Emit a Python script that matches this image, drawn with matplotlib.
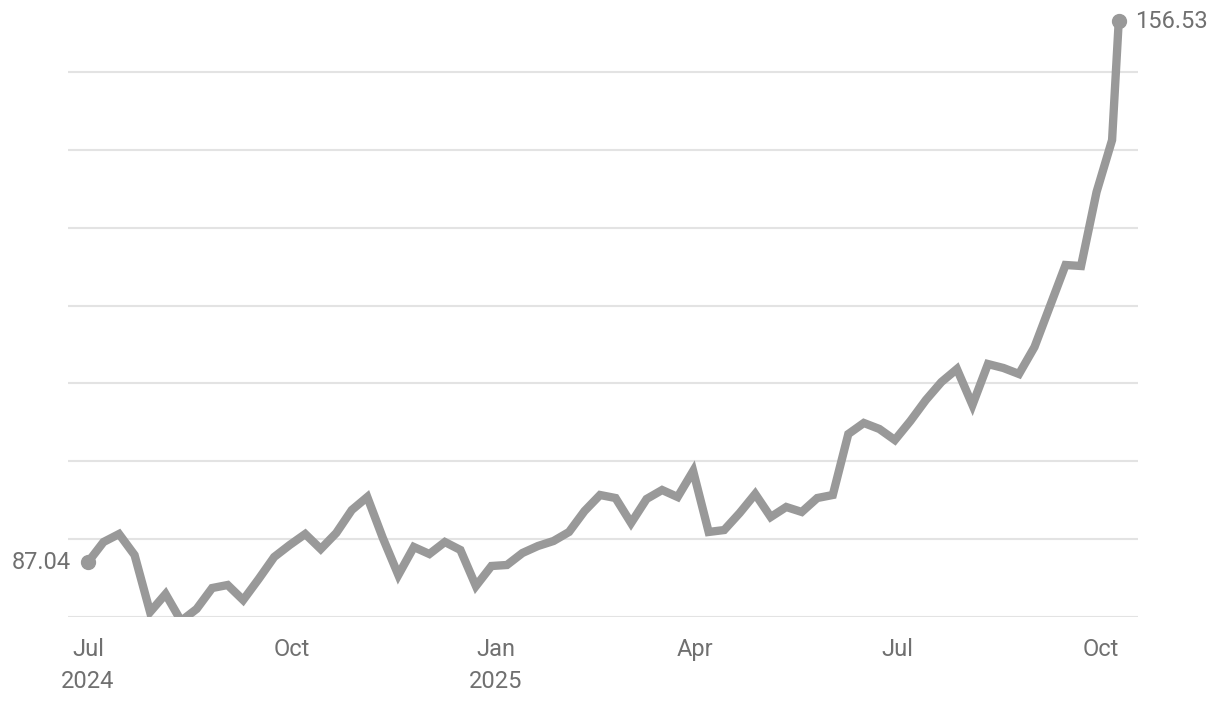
import matplotlib
matplotlib.use("Agg")
import matplotlib.pyplot as plt
import matplotlib.dates as mdates
import pandas as pd

plt.rcParams['font.family'] = ['Roboto', 'DejaVu Sans']

# weekly observations + latest value
dates = list(pd.date_range("2024-07-01", periods=67, freq="7D")) + [pd.Timestamp("2025-10-09")]
values = [
    87.04, 89.63, 90.66, 87.96, 80.64, 82.95, 79.49, 81.03, 83.72, 84.11,
    82.18, 84.88, 87.71, 89.25, 90.66, 88.73, 90.79, 93.74, 95.41, 90.15,
    85.39, 88.99, 88.09, 89.63, 88.61, 83.98, 86.55, 86.68, 88.22, 89.12,
    89.76, 90.92, 93.61, 95.67, 95.28, 92.07, 95.16, 96.31, 95.41, 98.75,
    90.92, 91.17, 93.36, 95.80, 92.84, 94.13, 93.49, 95.28, 95.67, 103.50,
    104.92, 104.15, 102.73, 105.17, 107.87, 110.18, 111.85, 107.23, 112.49, 111.98,
    111.21, 114.68, 119.94, 125.21, 125.08, 134.59, 141.26, 156.53,
]
tick_dates = ["2024-07-01", "2024-10-01", "2025-01-01", "2025-04-01", "2025-07-01", "2025-10-01"]
tick_labels = ["Jul\n2024", "Oct", "Jan\n2025", "Apr", "Jul", "Oct"]
grid_values = [80, 90, 100, 110, 120, 130, 140, 150]

W, H = 1220, 702
fig = plt.figure(figsize=(W / 100, H / 100), dpi=100)
ax = fig.add_axes([68 / W, (H - 617) / H, (1138 - 68) / W, (617 - 13) / H])

line_color = "#999999"
text_color = "#707070"
fs = 17

ax.plot(dates, values, color=line_color, lw=6, solid_joinstyle="miter", solid_capstyle="round", zorder=3)
ax.plot([dates[0], dates[-1]], [values[0], values[-1]], "o", color=line_color, ms=10, zorder=4, clip_on=False)

start = pd.Timestamp("2024-07-01")
px_per_day = (1101 - 88) / (pd.Timestamp("2025-10-01") - start).days
left = start - pd.Timedelta(days=20 / px_per_day)
right = start + pd.Timedelta(days=1050 / px_per_day)
ax.set_xlim(left, right)
ymax = 80 + (617 - 13) / 7.786
ax.set_ylim(80, ymax)

ax.set_yticks(grid_values)
ax.yaxis.grid(True, color="#e3e3e3", lw=1.5, zorder=0)
ax.tick_params(axis="y", left=False, labelleft=False)
ax.set_xticks([pd.Timestamp(d) for d in tick_dates])
ax.set_xticklabels(tick_labels, fontsize=fs, color=text_color, linespacing=1.5)
ax.tick_params(axis="x", length=0, pad=15)
for s in ax.spines.values():
    s.set_visible(False)

ax.annotate(f"{values[0]:.2f}", (dates[0], values[0]), xytext=(-12, 0), textcoords="offset points",
            ha="right", va="center", fontsize=fs, color=text_color)
ax.annotate(f"{values[-1]:.2f}", (dates[-1], values[-1]), xytext=(12, 0), textcoords="offset points",
            ha="left", va="center", fontsize=fs, color=text_color, annotation_clip=False)

fig.savefig("out.png", dpi=100)
